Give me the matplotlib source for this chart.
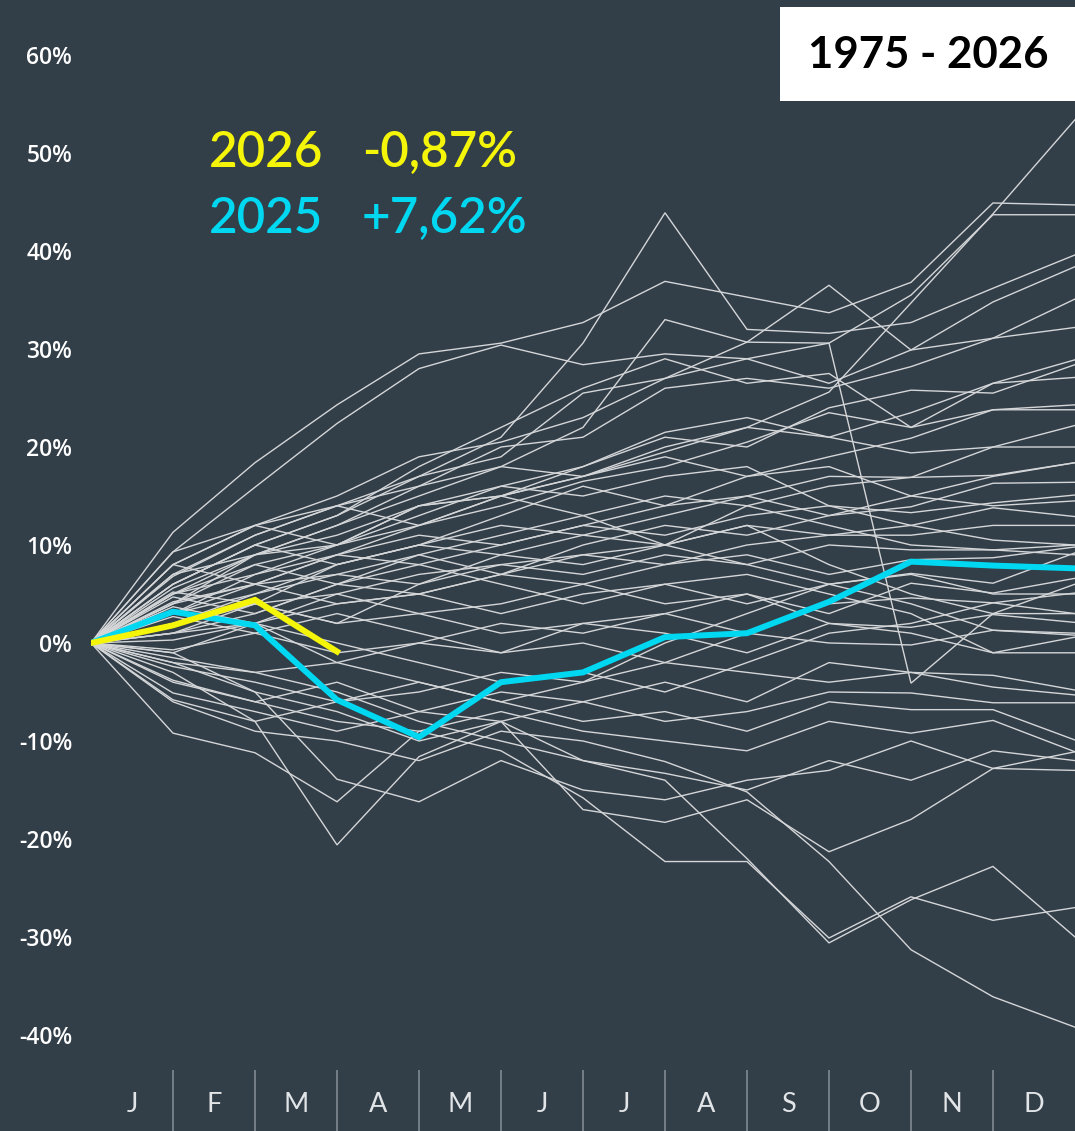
import matplotlib
matplotlib.use("Agg")
import matplotlib.pyplot as plt
from matplotlib.patches import Rectangle

# ---------------- data ----------------
months = ["J", "F", "M", "A", "M", "J", "J", "A", "S", "O", "N", "D"]
ytick_vals = [60, 50, 40, 30, 20, 10, 0, -10, -20, -30, -40]
ytick_labels = ["60%", "50%", "40%", "30%", "20%", "10%", "0%", "-10%", "-20%", "-30%", "-40%"]

# cumulative YTD performance (%) at end of each month, for past years (start at 0)
history = [
    [0, 4, 9, 10, 14, 15, 17, 19.5, 22, 25.6, 34.7, 43.8, 53.4],
    [0, 11.3, 18.4, 24.3, 29.5, 30.6, 32.7, 36.9, 35.3, 33.7, 36.8, 44.9, 44.7],
    [0, 8, 12, 15, 19, 20.5, 23, 27, 29, 30.6, 35.5, 43.7, 43.7],
    [0, 6, 10, 13, 17, 21, 30.6, 43.9, 32, 31.6, 32.7, 36.2, 39.6],
    [0, 9.3, 15.9, 22.4, 28, 30.4, 28.4, 29.5, 29, 26.5, 29.9, 34.8, 38.4],
    [0, 5, 9, 12, 15, 18, 22, 33, 30.7, 36.5, 29.9, 31.1, 35.1],
    [0, 7, 11, 14, 17, 19, 25.5, 27, 30.7, 30.6, -4.1, 3, 6],
    [0, 8, 12, 14, 16, 20, 21, 26, 27, 26, 28.2, 31.1, 32.2],
    [0, 6, 10, 13, 18, 22, 26, 29, 26.5, 27.5, 22, 26.5, 28.9],
    [0, 3, 7, 10, 14, 16, 18, 21, 20, 24, 25.8, 25.5, 28.4],
    [0, 5, 8, 10, 12, 15, 17, 20, 22, 21, 23.5, 26.5, 27.1],
    [0, 4, 6, 9, 12, 14, 16.5, 18, 20.5, 23.5, 22, 23.8, 24.3],
    [0, 2, 5, 8, 10, 13, 16, 14, 17, 19, 20.9, 23.8, 23.8],
    [0, 7, 9, 11, 14, 15, 18, 21.5, 23, 21, 19.4, 20, 22.2],
    [0, 3, 6, 9, 8, 10, 12, 14, 15, 17, 16.9, 20, 20],
    [0, 1, 3, 6, 9, 11, 13, 15, 14, 16, 16.9, 17.1, 18.4],
    [0, 6, 10, 8, 10, 12, 11, 13, 15, 13, 13.9, 16.3, 16.4],
    [0, 5, 7, 9, 11, 10, 12, 11, 13, 14, 13.3, 14.3, 15.1],
    [0, 2, 4, 5, 7, 8, 9, 10, 12, 11, 12, 13.8, 12.9],
    [0, 4, 8, 6, 5, 7, 9, 8, 10, 11, 11, 12, 12],
    [0, 3, 5, 7, 6, 8, 7, 9, 8, 10, 9.5, 9.5, 10],
    [0, 1, 2, 4, 5, 7, 6, 8, 9, 7, 8.5, 8.7, 9.8],
    [0, 4.2, 6, 4, 5, 3, 5, 6, 4, 6, 7.1, 6.1, 9.2],
    [0, 0.3, 2, 5, 3, 4, 6, 4, 5, 3, 6.1, 5.1, 6.6],
    [0, 1.7, 4, 2, 3, 1, 2, 3, 1, 4, 4.6, 4.1, 5.1],
    [0, 2.7, 1, -1, 0, 2, 1, 3, 5, 2, 1.6, 2.9, 2.1],
    [0, -0.7, 1, 3, 1, -1, 0, -2, 1, 0, -0.2, 1.3, 0.8],
    [0, -1.5, -3, -2, 0, -1, 2, 1, -1, 2, 1, -1, 0.6],
    [0, -2.4, -4, -6, -5, -3, -4, -2, -3, -4, -3, -3.3, -4.8],
    [0, -3.8, -6, -4, -7, -5, -6, -4, -6, -2, -3.0, -4.5, -5.3],
    [0, -5.1, -7, -9, -7, -8, -6, -8, -7, -5, -5.1, -6.1, -6.1],
    [0, -5.8, -8, -6, -4, -6, -8, -7, -9, -6, -6.8, -6.8, -9.9],
    [0, -9.2, -11.2, -16.2, -9, -7, -9, -10, -11, -8, -9.2, -7.9, -11.1],
    [0, -2, -5, -13.9, -16.2, -12, -15, -16, -14, -13, -10, -12.8, -13],
    [0, -3, -8, -20.6, -11.6, -8, -12, -13.3, -15, -12, -14, -11, -12],
    [0, -1, -5, -7, -10, -8, -17, -18.3, -16, -21.3, -18, -12.8, -11.1],
    [0, -4, -6, -8, -9, -11, -15.8, -22.3, -22.3, -30.1, -25.9, -28.3, -27],
    [0, -6, -9, -10, -12, -9, -10, -12.1, -15.2, -22.3, -31.3, -36.1, -39.2],
    [0, -2, -3, -5, -8, -10, -12, -14, -22, -30.6, -26.2, -22.8, -30],
    [0, 9.3, 12, 10, 13, 16, 15, 17, 18, 14, 12, 10.5, 10],
    [0, 8, 6, 7, 9, 7, 10, 12, 11, 13, 15, 14, 14.5],
    [0, 6.8, 11, 14, 12, 15, 13, 10, 12, 8, 5, 3, 3],
    [0, 4.7, 3, 6, 8, 6, 4, 6, 7, 5, 3, -1, -1],
    [0, 1, 4, 8, 10, 9, 11, 10, 8, 6, 4, 1.3, 1],
    [0, 5.6, 9, 12, 16, 18, 17, 19, 17, 18, 15, 17, 18.4],
    [0, -1, 2, 0, -2, -4, -3, -5, -2, 1, 2, 4.1, 3],
    [0, 3.7, 2, -2, -4, -6, -4, 0, 3, 6, 7, 5, 5],
    [0, 5.2, 4, 2, 6, 9, 8, 10, 14, 12, 10, 9.5, 9],
]

y2025 = [0, 3.2, 1.8, -5.8, -9.6, -4.0, -3.0, 0.6, 1.0, 4.2, 8.3, 7.9, 7.62]
y2026 = [0, 1.8, 4.4, -0.87]

label_2026 = "2026"
label_2025 = "2025"
perf_2026 = "-0,87%"
perf_2025 = "+7,62%"
title_text = "1975 - 2026"

# ---------------- styling ----------------
BG = "#323e48"
GRAY = "#d4d6d8"
CYAN = "#00d8f2"
YELLOW = "#f5f50a"

W, H = 1075, 1131
fig = plt.figure(figsize=(W / 100, H / 100), dpi=100)
fig.patch.set_facecolor(BG)

x0_px = 91
ax = fig.add_axes([x0_px / W, 0, 1 - x0_px / W, 1])
ax.set_facecolor(BG)

px_per_pct = 9.8
zero_px = 643
ax.set_ylim((zero_px - H) / px_per_pct, zero_px / px_per_pct)
ax.set_xlim(0, 12)

for s in ax.spines.values():
    s.set_visible(False)

def ypx(p):
    return (zero_px - p) / px_per_pct

def xpx(p):
    return (p - x0_px) / 82.0

xs = list(range(13))
for row in history:
    ax.plot(xs[:len(row)], row, color=GRAY, lw=1.0, solid_joinstyle="miter", zorder=2)

ax.plot(xs[:len(y2025)], y2025, color=CYAN, lw=4.3, solid_joinstyle="miter", zorder=4)
ax.plot(xs[:len(y2026)], y2026, color=YELLOW, lw=4.3, solid_joinstyle="miter", zorder=5)

# y ticks
ax.set_yticks(ytick_vals)
ax.set_yticklabels(ytick_labels)
ax.tick_params(axis="y", length=0, pad=13.5, labelcolor="white", labelsize=16.5)
for t in ax.get_yticklabels():
    t.set_fontfamily("Open Sans")
    t.set_fontweight("semibold")
ax.set_xticks([])

# month labels and separators
for i, m in enumerate(months):
    ax.text(i + 0.5, ypx(1105), m, ha="center", va="center", color="#e2e5e7",
            fontsize=19.5, family="Lato", fontweight="normal", zorder=6)
for i in range(1, 12):
    ax.plot([i, i], [ypx(1070), ypx(H)], color="#7b848c", lw=1.3, zorder=6,
            solid_capstyle="butt")

# legend texts
FS_LEG = 35.5
for txt, xp, yp, col in [(label_2026, 209, 167, YELLOW), (perf_2026, 362, 167, YELLOW),
                         (label_2025, 209, 233, CYAN), (perf_2025, 362, 233, CYAN)]:
    ax.text(xpx(xp), ypx(yp), txt, color=col, fontsize=FS_LEG, family="Lato",
            fontweight="semibold", ha="left", va="baseline", zorder=7)

# title box
ax.add_patch(Rectangle((xpx(780), ypx(101)), 12 - xpx(780), ypx(7) - ypx(101),
                       facecolor="white", edgecolor="none", zorder=8))
ax.text(xpx(928), ypx(55.5), title_text, color="black", fontsize=31.5, family="Lato",
        fontweight="bold", ha="center", va="center", zorder=9)

fig.savefig("out.png", dpi=100, facecolor=BG)
